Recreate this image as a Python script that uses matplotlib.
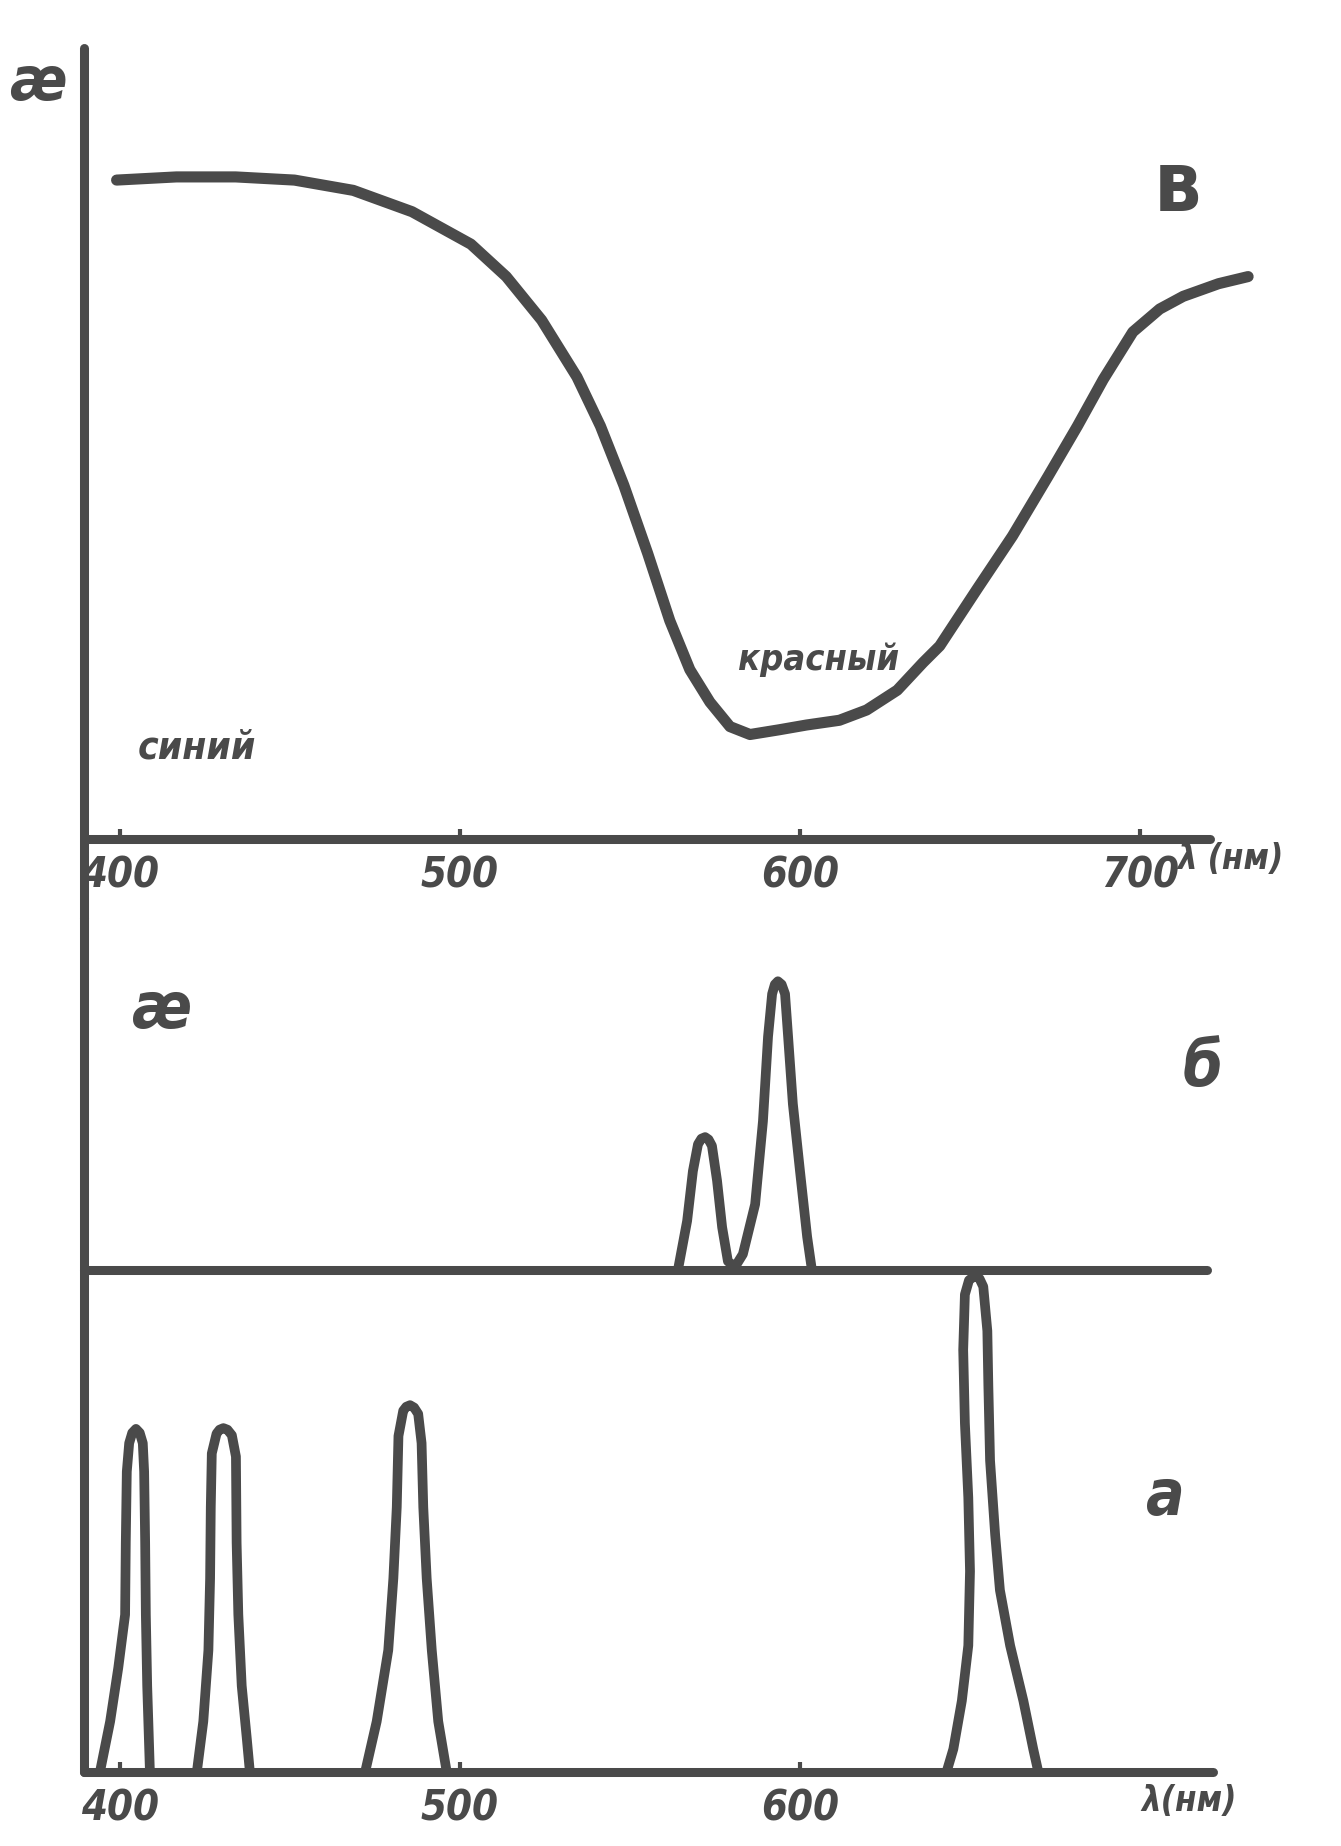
import matplotlib.pyplot as plt

INK = "#4a4a4a"
HAND = ["Liberation Sans Narrow", "DejaVu Sans"]

# (в) absorption curve, wavelength in nm, absorption in relative units
curve_wl = [399.0, 416.6, 434.0, 451.3, 468.6, 485.9, 503.2, 513.6, 524.0,
            534.4, 541.3, 548.2, 555.2, 561.7, 567.6, 573.5, 579.4, 585.3,
            593.9, 601.9, 611.6, 619.6, 628.6, 636.2, 641.1, 652.1, 662.5,
            672.9, 681.6, 689.2, 697.9, 705.8, 712.7, 723.1, 731.8]
curve_k = [0.833, 0.837, 0.837, 0.833, 0.820, 0.793, 0.752, 0.711, 0.656,
           0.584, 0.522, 0.447, 0.361, 0.276, 0.214, 0.173, 0.142, 0.132,
           0.138, 0.144, 0.150, 0.163, 0.188, 0.223, 0.244, 0.316, 0.383,
           0.458, 0.522, 0.581, 0.641, 0.670, 0.686, 0.702, 0.711]

# (б) doublet
doublet_wl = [564.1, 566.8, 568.5, 570.0, 571.0, 572.1, 573.1, 574.1, 575.6,
              577.1, 578.8, 580.9, 583.2, 586.8, 589.1, 590.6, 591.8, 592.6,
              593.5, 594.6, 595.6, 596.5, 597.9, 600.0, 602.1, 603.5]
doublet_k = [0.0, 0.062, 0.125, 0.159, 0.166, 0.168, 0.165, 0.157, 0.113,
             0.054, 0.011, 0.004, 0.020, 0.083, 0.188, 0.295, 0.349, 0.361,
             0.365, 0.361, 0.349, 0.295, 0.210, 0.125, 0.042, 0.0]

# (а) line spectrum, four lines
line1_wl = [394.1, 397.1, 399.5, 401.5, 401.7, 402.0, 402.7, 403.6, 404.7,
            405.8, 406.7, 407.1, 407.4, 407.6, 408.0, 408.8]
line1_k = [0.0, 0.064, 0.132, 0.199, 0.290, 0.380, 0.416, 0.429, 0.434,
           0.429, 0.416, 0.380, 0.290, 0.199, 0.109, 0.0]
line2_wl = [422.6, 424.5, 426.0, 426.5, 426.7, 427.0, 428.4, 429.3, 430.4,
            431.6, 432.9, 434.1, 434.3, 434.8, 435.8, 437.3, 438.2]
line2_k = [0.0, 0.064, 0.154, 0.245, 0.335, 0.403, 0.428, 0.433, 0.435,
           0.433, 0.426, 0.399, 0.290, 0.199, 0.109, 0.042, 0.0]
line3_wl = [472.1, 475.5, 478.9, 480.4, 481.4, 481.9, 483.3, 484.2, 485.3,
            486.5, 487.7, 488.7, 489.2, 490.2, 491.7, 493.6, 496.1]
line3_k = [0.0, 0.064, 0.154, 0.245, 0.335, 0.425, 0.457, 0.462, 0.464,
           0.461, 0.453, 0.416, 0.335, 0.245, 0.154, 0.064, 0.0]
line4_wl = [643.1, 645.1, 647.6, 649.5, 650.0, 649.5, 648.5, 648.0, 648.5,
            649.7, 651.5, 652.8, 653.9, 655.1, 655.4, 655.9, 657.4, 658.8,
            661.8, 665.7, 668.6, 670.1]
line4_k = [0.0, 0.029, 0.090, 0.160, 0.254, 0.347, 0.441, 0.534, 0.604,
           0.622, 0.628, 0.624, 0.614, 0.558, 0.488, 0.394, 0.300, 0.230,
           0.160, 0.090, 0.029, 0.0]

top_ticks = [400, 500, 600, 700]
bottom_ticks = [400, 500, 600]

plt.rcParams["font.family"] = HAND
plt.rcParams["font.style"] = "italic"
plt.rcParams["font.weight"] = "bold"
plt.rcParams["font.stretch"] = "condensed"

fig = plt.figure(figsize=(13.41, 18.46), dpi=100, facecolor="white")
W, H = 1341.0, 1846.0
XLIM = (380, 735)
LEFT, WIDTH = 52 / W, 1207 / W
Y_AXIS = 389.5


def make_axes(top_px, bottom_px, ylim):
    ax = fig.add_axes([LEFT, 1 - bottom_px / H, WIDTH, (bottom_px - top_px) / H])
    ax.set_xlim(*XLIM)
    ax.set_ylim(*ylim)
    ax.patch.set_alpha(0)
    for side in ["top", "right"]:
        ax.spines[side].set_visible(False)
    for side in ["left", "bottom"]:
        ax.spines[side].set_color(INK)
        ax.spines[side].set_linewidth(6.5)
        ax.spines[side].set_capstyle("round")
    ax.spines["left"].set_position(("data", Y_AXIS))
    ax.set_yticks([])
    return ax


# top panel (в)
ax_top = make_axes(48, 918, (-0.1, 1.0))
ax_top.spines["bottom"].set_position(("data", 0))
ax_top.spines["bottom"].set_bounds(Y_AXIS, 720.5)
ax_top.set_xticks(top_ticks)
ax_top.tick_params(axis="x", direction="in", length=7, width=3, pad=11,
                   labelsize=30, colors=INK)
ax_top.plot(curve_wl, curve_k, color=INK, lw=8, solid_capstyle="round",
            solid_joinstyle="round", clip_on=False)
ax_top.text(375.9, 0.955, "æ", fontsize=44, color=INK, ha="center", va="center")
ax_top.text(710.9, 0.823, "в", fontsize=60, color=INK, ha="center", va="center",
            fontstyle="normal")
ax_top.text(422.6, 0.115, "синий", fontsize=28, color=INK, ha="center", va="center")
ax_top.text(605.6, 0.226, "красный", fontsize=26, color=INK, ha="center", va="center")
ax_top.text(726.5, -0.025, "λ (нм)", fontsize=25, color=INK, ha="center", va="center")

# middle panel (б)
ax_mid = make_axes(918, 1270, (0, 0.445))
ax_mid.spines["bottom"].set_bounds(Y_AXIS, 719.7)
ax_mid.set_xticks([])
ax_mid.plot(doublet_wl, doublet_k, color=INK, lw=7, solid_capstyle="round",
            solid_joinstyle="round", clip_on=False)
ax_mid.text(412.4, 0.329, "æ", fontsize=46, color=INK, ha="center", va="center")
ax_mid.text(718.5, 0.255, "б", fontsize=46, color=INK, ha="center", va="center")

# bottom panel (а)
ax_bot = make_axes(1270, 1772, (0, 0.635))
ax_bot.spines["bottom"].set_bounds(Y_AXIS, 721.5)
ax_bot.set_xticks(bottom_ticks)
ax_bot.tick_params(axis="x", direction="in", length=7, width=3, pad=11,
                   labelsize=30, colors=INK)
for wl, k in [(line1_wl, line1_k), (line2_wl, line2_k),
              (line3_wl, line3_k), (line4_wl, line4_k)]:
    ax_bot.plot(wl, k, color=INK, lw=7, solid_capstyle="round",
                solid_joinstyle="round", clip_on=False)
ax_bot.text(707.4, 0.348, "а", fontsize=46, color=INK, ha="center", va="center")
ax_bot.text(714.4, -0.037, "λ(нм)", fontsize=25, color=INK, ha="center", va="center")

fig.savefig("out.png", dpi=100, facecolor="white")
